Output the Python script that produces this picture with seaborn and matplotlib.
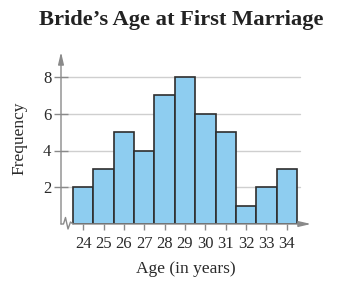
import matplotlib
matplotlib.use("Agg")
import matplotlib.pyplot as plt
import seaborn as sns
import numpy as np

ages = [24, 25, 26, 27, 28, 29, 30, 31, 32, 33, 34]
freqs = [2, 3, 5, 4, 7, 8, 6, 5, 1, 2, 3]
ytick_vals = [2, 4, 6, 8]
title = "Bride\u2019s Age at First Marriage"
xlabel = "Age (in years)"
ylabel = "Frequency"

sns.set_theme(style="white")
plt.rcParams['font.family'] = ['Liberation Serif', 'DejaVu Serif']

fig = plt.figure(figsize=(3.53, 2.89), dpi=100)
ax = fig.add_axes([61/353, 65/289, 250/353, 172/289])

axis_col = "#8a8a8a"
pxw = 224/11.0
pxh = 147/8.0
x0 = 23.5 - 12/pxw
x1 = 23.5 + (311-73)/pxw
ytop = (224-52)/pxh

for v in ytick_vals:
    ax.plot([x0, 23.5 + (300-73)/pxw], [v, v], color="#cfcfcf", lw=1.0, zorder=0)

sns.histplot(x=ages, weights=freqs, discrete=True, ax=ax,
             color="#8ecdf0", edgecolor="#2e2e2e", linewidth=1.2, alpha=1, zorder=2)

ax.set_xlim(x0, x1)
ax.set_ylim(0, ytop)
for s in ax.spines.values():
    s.set_visible(False)

# y-axis with arrow
ax.annotate("", xy=(x0, ytop), xytext=(x0, 0), xycoords='data',
            arrowprops=dict(arrowstyle='-|>,head_width=0.14,head_length=0.6',
                            color=axis_col, lw=1.0, shrinkA=0, shrinkB=0), annotation_clip=False)
# x-axis with arrow
ax.annotate("", xy=(x1, 0), xytext=(23.5, 0), xycoords='data',
            arrowprops=dict(arrowstyle='-|>,head_width=0.14,head_length=0.6',
                            color=axis_col, lw=1.0, shrinkA=0, shrinkB=0), annotation_clip=False)
# zigzag break
zx = [61, 63.5, 65.5, 68, 70.5, 73]
zy = [224, 224, 217.5, 229, 222, 224]
ax.plot([23.5 + (p-73)/pxw for p in zx], [(224-p)/pxh for p in zy],
        color=axis_col, lw=1.0, clip_on=False, zorder=3)

ax.set_xticks(ages)
ax.set_xticklabels([str(a) for a in ages])
ax.set_yticks(ytick_vals)
ax.set_yticklabels([str(v) for v in ytick_vals])
ax.tick_params(axis='x', direction='out', length=4, width=1.0, color=axis_col,
               labelsize=12, labelcolor="#2a2a2a", pad=5, bottom=True)
ax.tick_params(axis='y', direction='inout', length=10, width=1.0, color=axis_col,
               labelsize=12, labelcolor="#2a2a2a", pad=2, left=True)

ax.set_xlabel(xlabel, fontsize=12.5, color="#2a2a2a", labelpad=6)
ax.set_ylabel(ylabel, fontsize=12.5, color="#2a2a2a", labelpad=11)
fig.text(181/353, 1-20/289, title, ha='center', va='center', fontsize=16.2,
         fontweight='bold', color="#222222")

fig.savefig("out.png", dpi=100)
